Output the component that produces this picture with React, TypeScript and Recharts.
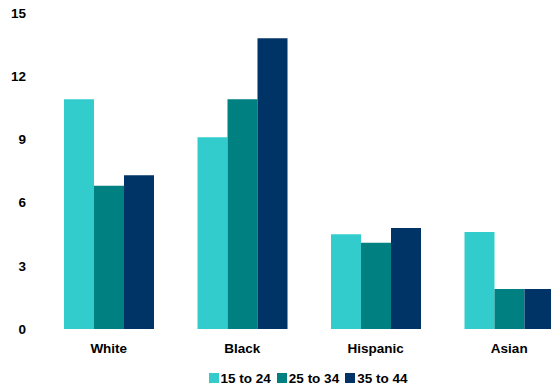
import React from "react";
import { BarChart, Bar, XAxis, YAxis, Legend } from "recharts";

const groups = ["White", "Black", "Hispanic", "Asian"];
const age15to24 = [10.9, 9.1, 4.5, 4.6];
const age25to34 = [6.8, 10.9, 4.1, 1.9];
const age35to44 = [7.3, 13.8, 4.8, 1.9];
const yTicks = [0, 3, 6, 9, 12, 15];

const series = [
  { key: "a", name: "15 to 24", color: "#33CCCC", values: age15to24 },
  { key: "b", name: "25 to 34", color: "#008080", values: age25to34 },
  { key: "c", name: "35 to 44", color: "#003366", values: age35to44 },
];

const rows = groups.map((g, i) => {
  const row: Record<string, string | number> = { group: g };
  series.forEach((s) => {
    row[s.key] = s.values[i];
  });
  return row;
});

const font = "'Liberation Sans', Arial, sans-serif";
const tickStyle = { fill: "#000", fontSize: 13.5, fontWeight: "bold", fontFamily: font };

// legend sits under the plot, centred on the plot area rather than the svg
const LegendRow = () => (
  <div
    style={{
      display: "flex",
      justifyContent: "center",
      alignItems: "center",
      gap: 6,
      height: 18,
      paddingLeft: 40,
      fontFamily: font,
      fontWeight: "bold",
      fontSize: 13.5,
      color: "#000",
    }}
  >
    {series.map((s) => (
      <span key={s.key} style={{ display: "flex", alignItems: "center" }}>
        <span
          style={{
            width: 10,
            height: 10,
            background: s.color,
            marginRight: 2,
            display: "inline-block",
          }}
        />
        {s.name}
      </span>
    ))}
  </div>
);

export default function App() {
  return (
    <div
      style={{
        position: "absolute",
        left: 0,
        top: 0,
        width: 551,
        height: 387,
        overflow: "hidden",
        background: "#fff",
      }}
    >
      <BarChart
        width={576}
        height={387}
        data={rows}
        margin={{ top: 13, right: 0, bottom: 0, left: 0 }}
        barCategoryGap="16.3%"
        barGap={0}
      >
        <XAxis
          dataKey="group"
          axisLine={false}
          tickLine={false}
          tickSize={0}
          tickMargin={14}
          height={40}
          tick={tickStyle}
        />
        <YAxis
          domain={[0, 15]}
          ticks={yTicks}
          axisLine={false}
          tickLine={false}
          tickSize={0}
          tickMargin={16}
          width={42}
          tick={tickStyle}
        />
        <Legend verticalAlign="bottom" content={() => <LegendRow />} />
        {series.map((s) => (
          <Bar
            key={s.key}
            dataKey={s.key}
            name={s.name}
            fill={s.color}
            barSize={30}
            isAnimationActive={false}
          />
        ))}
      </BarChart>
    </div>
  );
}
